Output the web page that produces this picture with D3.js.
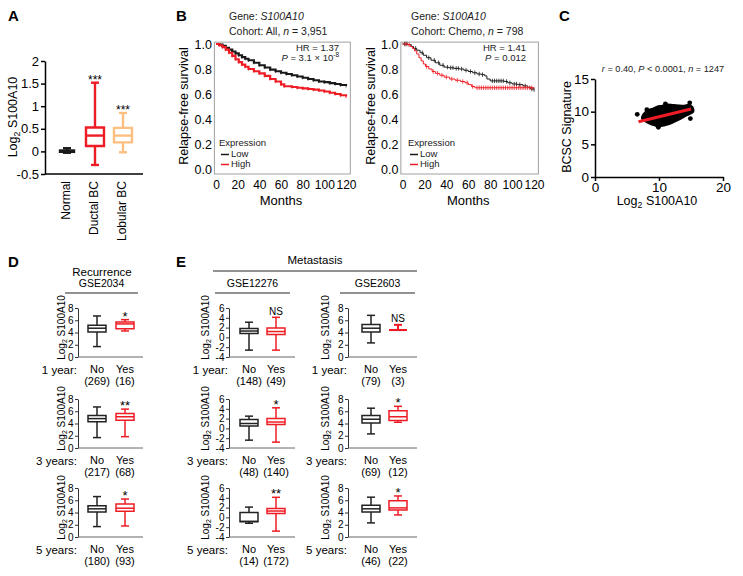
<!DOCTYPE html>
<html><head><meta charset="utf-8">
<script src="https://cdn.jsdelivr.net/npm/d3@7"></script>
<style>body{margin:0;background:#fff}svg{display:block;font-family:"Liberation Sans",Arial,Helvetica,sans-serif}</style>
</head><body><svg id="fig" width="743" height="576"></svg>
<script>
// ================= DATA =================
// Panel A
const groupsA = ["Normal", "Ductal BC", "Lobular BC"];
const whiskerLowA = [-0.03, -0.30, -0.02];
const q1A = [-0.01, 0.12, 0.20];
const medianA = [0.0, 0.35, 0.35];
const q3A = [0.02, 0.53, 0.52];
const whiskerHighA = [0.07, 1.52, 0.85];
const starsA = ["", "***", "***"];
const ticksA = [-0.5, 0, 0.5, 1, 1.5, 2];

// Panel B (Kaplan-Meier, [months, survival])
const kmYTicks = [0, 0.2, 0.4, 0.6, 0.8, 1.0];
const kmXTicks = [0, 20, 40, 60, 80, 100, 120];
const kmAllLow = [[0,1],[3,0.995],[6,0.985],[9,0.97],[12,0.955],[15,0.94],[18,0.925],[21,0.91],[24,0.895],[27,0.882],[30,0.87],[35,0.85],[40,0.83],[45,0.812],[50,0.795],[55,0.782],[60,0.77],[65,0.76],[70,0.75],[75,0.74],[80,0.73],[85,0.72],[90,0.71],[95,0.70],[100,0.695],[105,0.687],[110,0.68],[115,0.672],[120,0.665]];
const kmAllHigh = [[0,1],[3,0.99],[6,0.975],[9,0.955],[12,0.93],[15,0.905],[18,0.878],[21,0.855],[24,0.835],[27,0.818],[30,0.80],[35,0.782],[40,0.765],[45,0.745],[50,0.72],[55,0.70],[60,0.677],[63,0.662],[70,0.656],[75,0.65],[80,0.645],[85,0.64],[90,0.635],[95,0.628],[100,0.62],[105,0.61],[110,0.60],[115,0.59],[120,0.58]];
const kmChemoLow = [[0,1],[5,0.995],[8,0.98],[10,0.965],[13,0.95],[16,0.93],[19,0.91],[22,0.89],[26,0.87],[30,0.85],[34,0.83],[38,0.815],[42,0.81],[47,0.805],[52,0.80],[56,0.79],[60,0.78],[64,0.77],[68,0.76],[72,0.755],[75,0.745],[77,0.72],[80,0.705],[88,0.705],[93,0.70],[96,0.69],[100,0.68],[105,0.675],[110,0.665],[114,0.655],[117,0.64],[120,0.635]];
const kmChemoHigh = [[0,1],[5,0.995],[7,0.98],[9,0.965],[11,0.945],[13,0.92],[15,0.89],[17,0.865],[19,0.84],[21,0.82],[24,0.80],[27,0.78],[30,0.765],[34,0.75],[38,0.735],[43,0.72],[48,0.71],[53,0.70],[57,0.69],[60,0.675],[63,0.66],[66,0.65],[120,0.645]];
const kmChemoLowCensor = [2,4,12,18,24,29,33,37,41,44,46,49,51,54,58,62,66,70,73,82,84,86,88,90,92,95,98,102,104,107,112,118,120];
const kmChemoHighCensor = [3,6,22,28,32,36,40,45,50,55,59,64,68,70,72,74,76,78,80,82,84,86,88,90,92,94,96,98,100,102,104,106,108,110,112,114,116,118];

// Panel C (scatter cloud outline, outliers, fit line)
const scatterTicksX = [0, 10, 20];
const scatterTicksY = [0, 5, 10, 15];
const cloudOutline = [[7.4,9.4],[7.8,9.9],[8.3,10.25],[9.0,10.5],[9.7,10.8],[10.5,10.95],[11.3,11.15],[12.2,11.05],[13.0,11.0],[13.8,10.95],[14.5,11.05],[15.2,10.8],[15.4,10.4],[15.4,10.0],[15.0,9.7],[14.3,9.4],[13.5,8.95],[12.8,8.6],[12.0,8.2],[11.3,8.0],[10.5,7.8],[9.8,7.7],[9.2,7.9],[8.6,8.1],[8.0,8.4],[7.5,8.7],[7.3,9.0]];
const scatterOutliers = [[6.6,9.6],[14.9,8.95],[14.8,11.35],[9.9,7.6],[11.0,11.2],[8.1,10.3]];
const fitLine = [[6.8,8.45],[15.0,10.4]];

// Panels D & E (box stats: [lowWhisker, q1, median, q3, highWhisker])
const rowLabels = ["1 year:", "3 years:", "5 years:"];
const boxGroups = ["No", "Yes"];
const ticksGSE2034 = [0, 2, 4, 6, 8];
const ticksGSE12276 = [-4, -2, 0, 2, 4, 6];
const ticksGSE2603 = [0, 2, 4, 6, 8];
const countsGSE2034 = [[269,16],[217,68],[180,93]];
const countsGSE12276 = [[148,49],[48,140],[14,172]];
const countsGSE2603 = [[79,3],[69,12],[46,22]];
const statsGSE2034 = [
  [[1.7,4.1,4.7,5.2,6.7],[4.25,4.6,5.4,5.7,6.1]],
  [[1.7,4.3,4.8,5.3,6.7],[1.85,4.55,5.1,5.65,6.35]],
  [[1.7,4.1,4.6,5.1,6.6],[1.8,4.2,4.7,5.4,6.2]]];
const statsGSE12276 = [
  [[-2.6,0.8,1.3,1.8,3.1],[-2.6,0.6,1.2,1.9,4.1]],
  [[-2.4,0.5,1.0,1.8,2.5],[-2.8,0.8,1.3,2.0,4.2]],
  [[-1.2,-0.9,-0.8,1.0,2.1],[-2.8,0.8,1.3,1.8,4.1]]];
const statsGSE2603 = [
  [[2.3,4.1,4.7,5.3,6.8],[4.4,4.4,4.4,4.4,5.25]],
  [[2.3,4.1,4.7,5.3,6.5],[4.2,4.5,5.1,6.1,6.8]],
  [[2.3,4.1,4.6,5.2,6.5],[3.6,4.4,4.75,5.9,6.7]]];
const sigGSE2034 = ["*", "**", "*"];
const sigGSE12276 = ["NS", "*", "**"];
const sigGSE2603 = ["NS", "*", "*"];

// ================= DRAWING =================
const svg = d3.select("#fig");
const BLACK = "#1a1a1a", RED = "#ee1c24", ORANGE = "#fcbf80", GRAY = "#6e6e6e";

function txt(g, x, y, s, o = {}) {
  const t = g.append("text").attr("x", x).attr("y", y).text(s)
    .attr("font-size", o.size || 12).attr("text-anchor", o.anchor || "start")
    .attr("dominant-baseline", o.baseline || "middle").attr("fill", o.fill || "#000");
  if (o.weight) t.attr("font-weight", o.weight);
  if (o.rotate) t.attr("transform", `rotate(${o.rotate},${x},${y})`);
  return t;
}
function rich(g, x, y, parts, o = {}) {
  const fs = o.size || 12;
  const t = g.append("text").attr("x", x).attr("y", y).attr("font-size", fs)
    .attr("text-anchor", o.anchor || "start").attr("dominant-baseline", o.baseline || "middle")
    .attr("fill", o.fill || "#000");
  if (o.rotate) t.attr("transform", `rotate(${o.rotate},${x},${y})`);
  let shift = 0;
  parts.forEach(p => {
    const s = t.append("tspan").text(p.t);
    let target = 0;
    if (p.sub) { target = fs * 0.3; s.attr("font-size", fs * 0.7); }
    if (p.sup) { target = -fs * 0.4; s.attr("font-size", fs * 0.7); }
    if (p.i) s.attr("font-style", "italic");
    if (target !== shift) { s.attr("dy", target - shift); shift = target; }
  });
  return t;
}
const log2Label = [{t: "Log"}, {t: "2", sub: true}, {t: " S100A10"}];

function boxPath(x, w, yTop, yBot) {
  return `M${x - w / 2},${yTop}H${x + w / 2}V${yBot}H${x - w / 2}Z`;
}
function drawBox(g, x, y, s, w, capW, color, lw) {
  const [lo, q1, md, q3, hi] = s;
  const b = g.append("g").attr("stroke", color).attr("stroke-width", lw).attr("fill", "none");
  b.append("line").attr("x1", x).attr("x2", x).attr("y1", y(hi)).attr("y2", y(q3));
  b.append("line").attr("x1", x).attr("x2", x).attr("y1", y(q1)).attr("y2", y(lo));
  b.append("line").attr("x1", x - capW / 2).attr("x2", x + capW / 2).attr("y1", y(hi)).attr("y2", y(hi));
  b.append("line").attr("x1", x - capW / 2).attr("x2", x + capW / 2).attr("y1", y(lo)).attr("y2", y(lo));
  b.append("path").attr("d", boxPath(x, w, y(q3), y(q1))).attr("fill", "#fff");
  b.append("line").attr("x1", x - w / 2).attr("x2", x + w / 2).attr("y1", y(md)).attr("y2", y(md));
}
function styleAxis(sel, fs, lw, color) {
  sel.selectAll("text").attr("font-size", fs).attr("fill", "#000");
  sel.selectAll("path.domain").attr("stroke", color || "#000").attr("stroke-width", lw);
  sel.selectAll(".tick line").attr("stroke", color || "#000").attr("stroke-width", lw);
  sel.attr("font-family", null);
}

// ---------- Panel labels ----------
[["A", 8, 17], ["B", 176, 17], ["C", 559, 17], ["D", 8, 263], ["E", 176, 263]].forEach(([l, x, y]) =>
  txt(svg, x, y, l, {size: 15, weight: "bold"}));

// ---------- Panel A ----------
(function () {
  const g = svg.append("g");
  const y = d3.scaleLinear().domain([-0.5, 2]).range([174, 61]);
  const x = d3.scalePoint().domain(groupsA).range([67, 123]);
  g.append("g").attr("transform", "translate(45,0)")
    .call(d3.axisLeft(y).tickValues(ticksA).tickSize(4).tickSizeOuter(0).tickPadding(2).tickFormat(d => String(d)))
    .call(styleAxis, 13, 1.5);
  g.append("line").attr("x1", 45).attr("x2", 143).attr("y1", y(-0.5)).attr("y2", y(-0.5))
    .attr("stroke", "#000").attr("stroke-width", 1.5);
  const colors = [BLACK, RED, ORANGE];
  groupsA.forEach((gr, i) => {
    const s = [whiskerLowA[i], q1A[i], medianA[i], q3A[i], whiskerHighA[i]];
    drawBox(g, x(gr), y, s, i === 0 ? 14 : 18, 8, colors[i], 2.4);
    if (starsA[i]) txt(g, x(gr), y(whiskerHighA[i]) + 1, starsA[i], {size: 12, anchor: "middle", baseline: "auto"});
    txt(g, x(gr), 181, gr, {size: 12, anchor: "end", rotate: -90});
  });
  rich(g, 14, 117, log2Label, {size: 12.5, anchor: "middle", rotate: -90});
})();

// ---------- Panel B ----------
function stepAt(curve, t) {
  let v = curve[0][1];
  for (const [m, s] of curve) { if (m <= t) v = s; else break; }
  return v;
}
function kmPanel(cfg) {
  const g = svg.append("g");
  const x = d3.scaleLinear().domain([0, 120]).range(cfg.xRange);
  const y = d3.scaleLinear().domain([0, 1]).range([169, 44]);
  const fx0 = x(-1.5), fx1 = x(124), fy0 = y(1.015), fy1 = y(-0.04);
  g.append("rect").attr("x", fx0).attr("y", fy0).attr("width", fx1 - fx0).attr("height", fy1 - fy0)
    .attr("fill", "none").attr("stroke", "#a0a0a0").attr("stroke-width", 1);
  const ay = g.append("g").attr("transform", `translate(${fx0},0)`)
    .call(d3.axisLeft(y).tickValues(kmYTicks).tickSize(0).tickPadding(2.5).tickFormat(d3.format(".1f")));
  ay.call(styleAxis, 12.5, 0); ay.select(".domain").remove();
  const ax = g.append("g").attr("transform", `translate(0,${fy1})`)
    .call(d3.axisBottom(x).tickValues(kmXTicks).tickSize(0).tickPadding(6));
  ax.call(styleAxis, 12, 0); ax.select(".domain").remove();
  const line = d3.line().x(d => x(d[0])).y(d => y(d[1])).curve(d3.curveStepAfter);
  [[cfg.low, BLACK, cfg.lowCensor], [cfg.high, RED, cfg.highCensor]].forEach(([c, col, cens]) => {
    g.append("path").datum(c).attr("d", line).attr("fill", "none").attr("stroke", col).attr("stroke-width", cfg.lw);
    const times = cens || c.map(d => d[0]).filter(t => t > 0);
    g.selectAll(null).data(times).join("line")
      .attr("x1", t => x(t)).attr("x2", t => x(t))
      .attr("y1", t => y(stepAt(c, t)) - cfg.tick).attr("y2", t => y(stepAt(c, t)) + cfg.tick)
      .attr("stroke", col).attr("stroke-width", 0.8);
  });
  rich(g, cfg.titleX, 17, [{t: "Gene: "}, {t: "S100A10", i: true}], {size: 10.5, fill: "#222"});
  rich(g, cfg.titleX, 32, cfg.cohort, {size: 10.5, fill: "#222"});
  txt(g, cfg.hrX, 48, "HR = " + cfg.hr, {size: 9.5, anchor: "end", fill: "#222"});
  const pt = g.append("text").attr("x", cfg.hrX).attr("y", 61).attr("font-size", 9.5)
    .attr("text-anchor", "end").attr("fill", "#222");
  pt.append("tspan").attr("font-style", "italic").text("P");
  pt.append("tspan").text(" = " + cfg.p);
  if (cfg.pExp) pt.append("tspan").attr("font-size", 6.5).attr("dy", -4).text(cfg.pExp);
  txt(g, cfg.legX, 143, "Expression", {size: 9.5, fill: "#222"});
  [["Low", BLACK, 154.5], ["High", RED, 164.5]].forEach(([l, col, yy]) => {
    g.append("line").attr("x1", cfg.legX + 2).attr("x2", cfg.legX + 10).attr("y1", yy).attr("y2", yy)
      .attr("stroke", col).attr("stroke-width", 1.5);
    txt(g, cfg.legX + 12, yy, l, {size: 9.5, fill: "#222"});
  });
  txt(g, cfg.ylabX, 106, "Relapse-free survival", {size: 12.5, anchor: "middle", rotate: -90});
  txt(g, (x(0) + x(120)) / 2, 202, "Months", {size: 13, anchor: "middle"});
}
kmPanel({xRange: [216, 346], low: kmAllLow, high: kmAllHigh, lw: 2.2, tick: 1.6,
  titleX: 229, cohort: [{t: "Cohort: All, "}, {t: "n", i: true}, {t: " = 3,951"}],
  hrX: 339, hr: "1.37", p: "3.1 × 10", pExp: "-8",
  legX: 219, ylabX: 185});
kmPanel({xRange: [402.5, 534], low: kmChemoLow, high: kmChemoHigh, lw: 1, tick: 2.2,
  lowCensor: kmChemoLowCensor, highCensor: kmChemoHighCensor,
  titleX: 411, cohort: [{t: "Cohort: Chemo, "}, {t: "n", i: true}, {t: " = 798"}],
  hrX: 526, hr: "1.41", p: "0.012", pExp: null,
  legX: 408, ylabX: 372});

// ---------- Panel C ----------
(function () {
  const g = svg.append("g");
  const x = d3.scaleLinear().domain([0, 20]).range([595, 723]);
  const y = d3.scaleLinear().domain([0, 15]).range([177, 79]);
  g.append("g").attr("transform", `translate(0,${y(0)})`)
    .call(d3.axisBottom(x).tickValues(scatterTicksX).tickSize(4).tickSizeOuter(0).tickPadding(1))
    .call(styleAxis, 13.5, 1.5);
  g.append("g").attr("transform", `translate(${x(0)},0)`)
    .call(d3.axisLeft(y).tickValues(scatterTicksY).tickSize(4).tickSizeOuter(0).tickPadding(2))
    .call(styleAxis, 13.5, 1.5);
  g.append("path").datum(cloudOutline)
    .attr("d", d3.line().x(d => x(d[0])).y(d => y(d[1])).curve(d3.curveCatmullRomClosed))
    .attr("fill", "#000").attr("stroke", "#000").attr("stroke-width", 1.5);
  g.selectAll(null).data(scatterOutliers).join("circle")
    .attr("cx", d => x(d[0])).attr("cy", d => y(d[1])).attr("r", 2.4).attr("fill", "#000");
  g.append("path").datum(fitLine).attr("d", d3.line().x(d => x(d[0])).y(d => y(d[1])))
    .attr("stroke", RED).attr("stroke-width", 3).attr("fill", "none");
  rich(g, 663, 70, [{t: "r", i: true}, {t: " = 0.40, "}, {t: "P", i: true}, {t: " < 0.0001, "}, {t: "n", i: true}, {t: " = 1247"}],
    {size: 9.2, anchor: "middle", fill: "#222"});
  txt(g, 568, 127, "BCSC Signature", {size: 12.5, anchor: "middle", rotate: -90});
  rich(g, 657, 202, log2Label, {size: 12.5, anchor: "middle"});
})();

// ---------- Panels D & E ----------
(function () {
  const g = svg.append("g");
  const rowTops = [308, 399, 488], plotH = 49;
  const columns = [
    {name: "GSE2034", axisX: 78, axisEnd: 143, xs: [97, 125], ticks: ticksGSE2034, stats: statsGSE2034, counts: countsGSE2034, sig: sigGSE2034, labX: 62, head: [65, 138]},
    {name: "GSE12276", axisX: 229, axisEnd: 295, xs: [249, 276], ticks: ticksGSE12276, stats: statsGSE12276, counts: countsGSE12276, sig: sigGSE12276, labX: 206, head: [215, 290]},
    {name: "GSE2603", axisX: 348, axisEnd: 417, xs: [371, 398], ticks: ticksGSE2603, stats: statsGSE2603, counts: countsGSE2603, sig: sigGSE2603, labX: 326, head: [340, 415]}
  ];
  txt(g, 102, 273, "Recurrence", {size: 11.5, anchor: "middle"});
  txt(g, 315, 261, "Metastasis", {size: 11.5, anchor: "middle"});
  g.append("line").attr("x1", 213).attr("x2", 417).attr("y1", 271).attr("y2", 271).attr("stroke", GRAY).attr("stroke-width", 1.5);
  columns.forEach(c => {
    txt(g, (c.head[0] + c.head[1]) / 2, 284, c.name, {size: 10.5, anchor: "middle"});
    g.append("line").attr("x1", c.head[0]).attr("x2", c.head[1]).attr("y1", 293).attr("y2", 293).attr("stroke", GRAY).attr("stroke-width", 1.5);
    rowTops.forEach((top, r) => {
      const y = d3.scaleLinear().domain(d3.extent(c.ticks)).range([top + plotH, top]);
      const x = d3.scalePoint().domain(boxGroups).range(c.xs);
      g.append("g").attr("transform", `translate(${c.axisX},0)`)
        .call(d3.axisLeft(y).tickValues(c.ticks).tickSize(3).tickSizeOuter(0).tickPadding(1.5).tickFormat(d => String(d)))
        .call(styleAxis, 10, 1, "#333");
      g.append("line").attr("x1", c.axisX).attr("x2", c.axisEnd).attr("y1", top + plotH).attr("y2", top + plotH)
        .attr("stroke", "#666").attr("stroke-width", 1);
      boxGroups.forEach((bg, k) => {
        const s = c.stats[r][k];
        drawBox(g, x(bg), y, s, 18, 8, k === 0 ? "#222" : RED, k === 1 && s[1] === s[3] ? 2 : 1.5);
        txt(g, x(bg), top + plotH + 13, bg, {size: 11, anchor: "middle"});
        txt(g, x(bg), top + plotH + 25, "(" + c.counts[r][k] + ")", {size: 11, anchor: "middle"});
      });
      const sig = c.sig[r], wt = y(c.stats[r][1][4]);
      if (sig === "NS") txt(g, x("Yes"), wt - 2.5, sig, {size: 10, anchor: "middle", baseline: "auto"});
      else txt(g, x("Yes"), wt + 1, sig, {size: 13, anchor: "middle", baseline: "auto"});
      txt(g, c.axisX - 1, top + plotH + 13.5, rowLabels[r], {size: 11.5, anchor: "end"});
      rich(g, c.labX, top + 19.5, log2Label, {size: 10, anchor: "middle", rotate: -90});
    });
  });
})();
</script></body></html>
